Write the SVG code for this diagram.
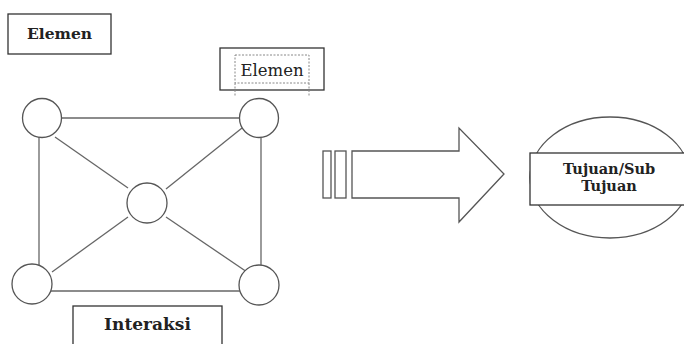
<svg xmlns="http://www.w3.org/2000/svg" width="684" height="344" viewBox="0 0 684 344">
<style>
.box{fill:#fff;stroke:#333;stroke-width:1.3}
.nd{fill:#fff;stroke:#555;stroke-width:1.3}
.ln{stroke:#666;stroke-width:1.3;fill:none}
.t{font-family:"DejaVu Serif",serif;fill:#222;text-anchor:middle}
.b{font-weight:bold}
.dash{fill:none;stroke:#888;stroke-width:1;stroke-dasharray:2,1.5}
</style>
<rect width="684" height="344" fill="#fff"/>
<g id="connectors">
<line class="ln" x1="61" y1="118" x2="240" y2="118"/>
<line class="ln" x1="39" y1="133" x2="39" y2="265"/>
<line class="ln" x1="261" y1="138" x2="261" y2="265"/>
<line class="ln" x1="51" y1="291" x2="240" y2="291"/>
<line class="ln" x1="55" y1="137" x2="128" y2="188"/>
<line class="ln" x1="242" y1="128" x2="166" y2="189"/>
<line class="ln" x1="128" y1="217" x2="52" y2="272"/>
<line class="ln" x1="166" y1="217" x2="247" y2="272"/>
</g>
<g id="elemen1">
<rect class="box" x="8" y="14" width="103" height="40"/>
<text class="t b" x="59.5" y="38.5" font-size="15.5">Elemen</text>
</g>
<g id="elemen2">
<rect class="box" x="220" y="48" width="104" height="42"/>
<rect class="dash" x="235" y="55" width="74" height="28"/>
<line class="dash" x1="235" y1="83" x2="235" y2="96"/>
<line class="dash" x1="309" y1="83" x2="309" y2="96"/>
<text class="t" x="272" y="75.5" font-size="16.5" fill="#333">Elemen</text>
</g>
<g id="node-tl"><circle class="nd" cx="42" cy="118" r="19.5"/></g>
<g id="node-tr"><circle class="nd" cx="259" cy="118" r="19.5"/></g>
<g id="node-c"><circle class="nd" cx="147" cy="203" r="20"/></g>
<g id="node-bl"><circle class="nd" cx="32" cy="284" r="20"/></g>
<g id="node-br"><circle class="nd" cx="259" cy="285" r="20"/></g>
<g id="interaksi">
<rect class="box" x="73" y="306" width="149" height="45"/>
<text class="t b" x="147.5" y="330" font-size="17">Interaksi</text>
</g>
<g id="arrow">
<rect class="nd" x="323" y="151" width="8" height="47"/>
<rect class="nd" x="335" y="151" width="11" height="47"/>
<polygon class="nd" points="352,151 459,151 459,128 504,174 459,222 459,198 352,198"/>
</g>
<g id="tujuan">
<ellipse class="nd" cx="610" cy="177.5" rx="80" ry="60.5"/>
<rect class="box" x="530" y="153" width="160" height="52"/>
<text class="t b" x="609" y="174" font-size="14.5">Tujuan/Sub</text>
<text class="t b" x="609" y="191" font-size="14.5">Tujuan</text>
</g>
</svg>
